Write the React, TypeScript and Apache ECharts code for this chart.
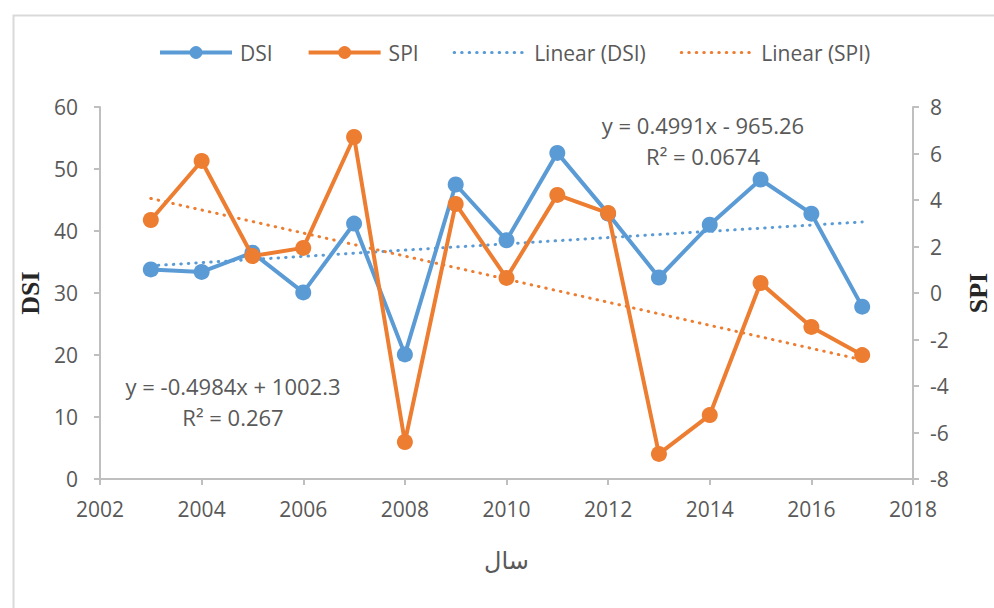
import React, { useEffect, useRef } from "react";
import * as echarts from "echarts";

const years = [2003, 2004, 2005, 2006, 2007, 2008, 2009, 2010, 2011, 2012, 2013, 2014, 2015, 2016, 2017];
const dsiValues = [33.8, 33.4, 36.5, 30.1, 41.2, 20.1, 47.5, 38.5, 52.6, 42.8, 32.5, 41.0, 48.3, 42.8, 27.8];
const spiValues = [3.14, 5.68, 1.59, 1.94, 6.71, -6.41, 3.83, 0.65, 4.22, 3.44, -6.92, -5.25, 0.43, -1.46, -2.67];
const legendNames = ["DSI", "SPI", "Linear (DSI)", "Linear (SPI)"];
const dsiEquation = ["y = 0.4991x - 965.26", "R² = 0.0674"];
const spiEquation = ["y = -0.4984x + 1002.3", "R² = 0.267"];

const BLUE = "#5b9bd5";
const ORANGE = "#ed7d31";
const TEXT = "#595959";
const AXIS = "#bfbfbf";
const FONT = "'Open Sans', 'Noto Sans', sans-serif";

function linearFit(xs: number[], ys: number[]) {
  const n = xs.length;
  const mx = xs.reduce((a, b) => a + b, 0) / n;
  const my = ys.reduce((a, b) => a + b, 0) / n;
  let sxy = 0, sxx = 0;
  for (let i = 0; i < n; i++) {
    sxy += (xs[i] - mx) * (ys[i] - my);
    sxx += (xs[i] - mx) * (xs[i] - mx);
  }
  const slope = sxy / sxx;
  const intercept = my - slope * mx;
  return [xs[0], xs[n - 1]].map((x) => [x, slope * x + intercept]);
}

export default function App() {
  const ref = useRef<HTMLDivElement>(null);
  useEffect(() => {
    if (!ref.current) return;
    const chart = echarts.init(ref.current, undefined, { renderer: "svg" });
    const dsiTrend = linearFit(years, dsiValues);
    const spiTrend = linearFit(years, spiValues);
    const axisLabel = { color: TEXT, fontSize: 21, fontFamily: FONT };
    const axisLine = { show: true, lineStyle: { color: AXIS, width: 2 } };
    const axisTick = { show: true, length: 6, lineStyle: { color: AXIS, width: 2 } };
    const dotted = (color: string) => ({ color, width: 3, type: [0.5, 7] as any, cap: "round" as any });
    const nameStyle = { color: "#262626", fontSize: 26, fontWeight: "bold", fontFamily: "'Liberation Serif', serif" };
    chart.setOption({
      animation: false,
      backgroundColor: "#ffffff",
      textStyle: { fontFamily: FONT },
      grid: { left: 100, right: 81, top: 107, bottom: 129, outerBoundsMode: "none", containLabel: false },
      legend: {
        data: [
          { name: legendNames[0], lineStyle: { width: 4 } },
          { name: legendNames[1], lineStyle: { width: 4 } },
          { name: legendNames[2], itemStyle: { opacity: 0 }, lineStyle: { width: 3 } },
          { name: legendNames[3], itemStyle: { opacity: 0 }, lineStyle: { width: 3 } },
        ],
        left: 153,
        top: 37,
        itemWidth: 72,
        itemHeight: 16,
        itemGap: 34,
        textStyle: { color: TEXT, fontSize: 21, fontFamily: FONT, padding: [0, 0, 0, 3] },
      },
      xAxis: {
        type: "value",
        min: 2002,
        max: 2018,
        interval: 2,
        name: "سال",
        nameLocation: "middle",
        nameGap: 68,
        nameTextStyle: { color: TEXT, fontSize: 24, fontFamily: "'Noto Sans', 'DejaVu Sans', sans-serif" },
        axisLine: { ...axisLine, onZero: false },
        axisTick,
        axisLabel: { ...axisLabel, margin: 19, formatter: (v: number) => String(v) },
        splitLine: { show: false },
      },
      yAxis: [
        {
          type: "value",
          min: 0,
          max: 60,
          interval: 10,
          name: "DSI",
          nameLocation: "middle",
          nameRotate: 90,
          nameGap: 50,
          nameTextStyle: nameStyle,
          axisLine,
          axisTick,
          axisLabel: { ...axisLabel, margin: 22 },
          splitLine: { show: false },
        },
        {
          type: "value",
          min: -8,
          max: 8,
          interval: 2,
          position: "right",
          name: "SPI",
          nameLocation: "middle",
          nameRotate: 90,
          nameGap: 52,
          nameTextStyle: nameStyle,
          axisLine,
          axisTick,
          axisLabel: { ...axisLabel, margin: 17 },
          splitLine: { show: false },
        },
      ],
      series: [
        {
          name: "Linear (DSI)",
          type: "line",
          yAxisIndex: 0,
          data: dsiTrend,
          symbol: "none",
          lineStyle: dotted(BLUE),
          itemStyle: { color: BLUE },
          z: 1,
        },
        {
          name: "Linear (SPI)",
          type: "line",
          yAxisIndex: 1,
          data: spiTrend,
          symbol: "none",
          lineStyle: dotted(ORANGE),
          itemStyle: { color: ORANGE },
          z: 1,
        },
        {
          name: "DSI",
          type: "line",
          yAxisIndex: 0,
          data: years.map((y, i) => [y, dsiValues[i]]),
          symbol: "circle",
          symbolSize: 16,
          lineStyle: { color: BLUE, width: 4 },
          itemStyle: { color: BLUE },
          z: 2,
        },
        {
          name: "SPI",
          type: "line",
          yAxisIndex: 1,
          data: years.map((y, i) => [y, spiValues[i]]),
          symbol: "circle",
          symbolSize: 16,
          lineStyle: { color: ORANGE, width: 4 },
          itemStyle: { color: ORANGE },
          z: 3,
        },
      ],
      graphic: [
        {
          type: "rect",
          left: 11,
          top: 13,
          shape: { width: 1000, height: 640 },
          style: { fill: "none", stroke: "#d9d9d9", lineWidth: 2 },
          silent: true,
        },
        ...dsiEquation.map((t, i) => ({
          type: "text",
          x: 703,
          y: 125 + i * 31,
          style: { text: t, fill: TEXT, fontSize: 22, fontFamily: FONT, textAlign: "center", textVerticalAlign: "middle" },
        })),
        ...spiEquation.map((t, i) => ({
          type: "text",
          x: 233,
          y: 386 + i * 31,
          style: { text: t, fill: TEXT, fontSize: 22, fontFamily: FONT, textAlign: "center", textVerticalAlign: "middle" },
        })),
      ],
    });
    return () => chart.dispose();
  }, []);
  return (
    <div
      ref={ref}
      style={{ position: "fixed", left: 0, top: 0, width: 994, height: 608, background: "#fff" }}
    />
  );
}
